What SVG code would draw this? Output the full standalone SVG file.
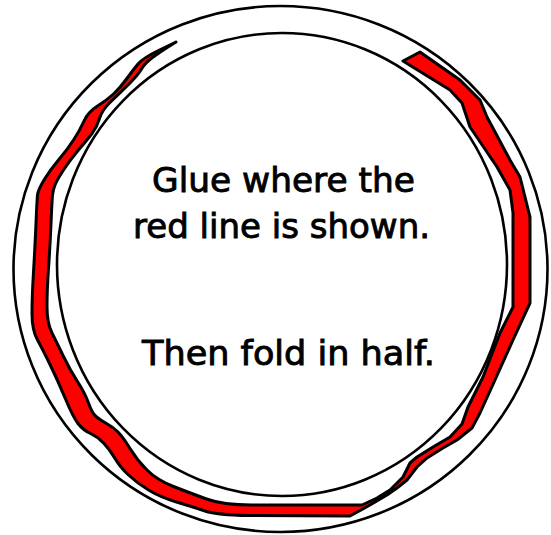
<svg xmlns="http://www.w3.org/2000/svg" width="551" height="535" viewBox="0 0 551 535">
<style>
.ring{fill:none;stroke:#000;stroke-width:2.6}
.glue{fill:#ff0000;stroke:#000;stroke-width:3;stroke-linejoin:round}
.lbl{font-family:"DejaVu Sans",sans-serif;font-size:34px;fill:#000;stroke:#000;stroke-width:0.9;text-anchor:middle}
</style>
<rect width="551" height="535" fill="#fff"/>
<g id="outer-circle"><ellipse class="ring" cx="280.5" cy="269" rx="267" ry="263"/></g>
<g id="inner-circle"><ellipse class="ring" cx="282" cy="264.5" rx="225" ry="231.5"/></g>
<g id="glue-band">
<path class="glue" d="M176,42 L159.5,50 Q143,58 138,64 Q133,70 126.5,79 Q120,88 113.5,94 Q107,100 97.5,106 Q88,112 84,121 Q80,130 73.5,140 Q67,150 58.5,160 Q50,170 44,180 Q38,190 37.5,195 Q37,200 36,223.5 Q35,247 33.5,272 Q32,297 32,313.5 Q32,330 37.5,340 Q43,350 50.5,365.5 Q58,381 65.5,399 Q73,417 78,423.5 Q83,430 90.5,433.5 Q98,437 104,443.5 Q110,450 115,458.5 Q120,467 128.5,475 Q137,483 148.5,490 Q160,497 176.5,502 Q193,507 205,511 Q217,515 248.5,515.5 L350,516 L370,505 L387,495 L397,488 L407,480 L417,467 L427,458 L443,448 L457,440 L472,428 L480,413 L495,380 L513,340 L530,303 L530,217 L520,177 L510,160 L487,117 L480,100 L460,80 L420,52 L403,61 L450,90 L462,103 L470,127 L497,167 L510,190 L513,213 L513,307 L500,333 L483,377 L468,407 L462,424 L450,437 L433,447 L417,457 L410,463 L403,477 L390,490 L377,498 L362,505 L280,505 L251.5,505 Q223,505 206.5,499 Q190,493 173.5,486.5 Q157,480 147,470 Q137,460 130,448.5 Q123,437 118,432 Q113,427 106.5,423.5 Q100,420 96,416.5 Q92,413 88.5,403 Q85,393 77.5,381.5 Q70,370 63.5,356.5 Q57,343 52,333 Q47,323 47,306.5 Q47,290 48.5,268.5 Q50,247 51,223.5 Q52,200 52.5,195 Q53,190 55,185 Q57,180 63.5,170 Q70,160 78.5,150 Q87,140 92,133.5 Q97,127 99.5,118.5 Q102,110 111,101.5 Q120,93 129,84 Q138,75 141.5,69 Q145,63 152.5,57.5 Q160,52 168,47 L176,42 Z"/>
</g>
<g id="text">
<text class="lbl" x="283.5" y="192" textLength="263" lengthAdjust="spacingAndGlyphs">Glue where the</text>
<text class="lbl" x="281.5" y="238" textLength="297" lengthAdjust="spacingAndGlyphs">red line is shown.</text>
<text class="lbl" x="288.5" y="365" textLength="293" lengthAdjust="spacingAndGlyphs">Then fold in half.</text>
</g>
</svg>
